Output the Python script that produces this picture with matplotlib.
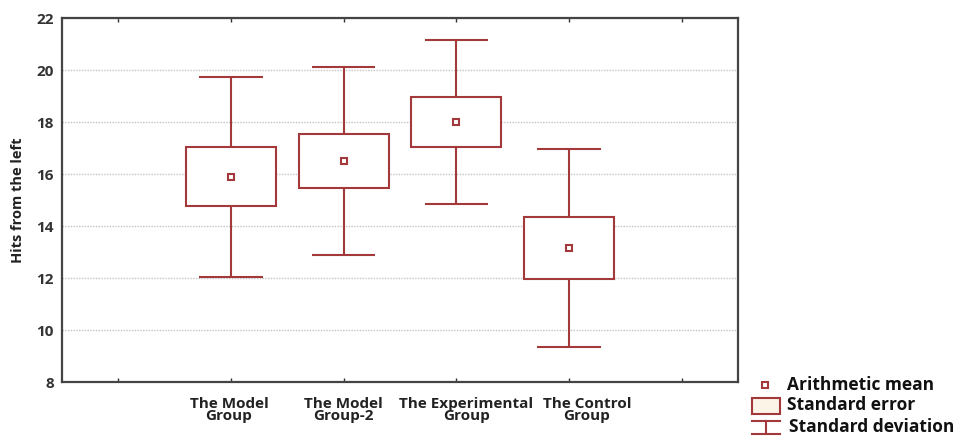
import matplotlib
matplotlib.use("Agg")
import matplotlib.pyplot as plt
import matplotlib.transforms as mtransforms
from matplotlib.lines import Line2D
from matplotlib.patches import Rectangle

# Group summary statistics
groups = ["", "The Model\nGroup", "The Model\nGroup-2", "The Experimental\nGroup", "The Control\nGroup", ""]
group_pos = [1, 2, 3, 4]
means = [15.9, 16.5, 18.0, 13.15]
std_err = [1.14, 1.02, 0.98, 1.2]
std_dev = [3.85, 3.62, 3.14, 3.8]

RED = "#a3393a"
plt.rcParams["font.family"] = ["Open Sans", "DejaVu Sans"]

fig = plt.figure(figsize=(9.58, 4.37), dpi=100)
ax = fig.add_axes([62 / 958, 1 - 382 / 437, (738 - 62) / 958, (382 - 18) / 437])

box_w = 0.8
cap_w = 0.56
lw = 1.5

for x, m, se, sd in zip(group_pos, means, std_err, std_dev):
    ax.vlines(x, m - sd, m + sd, color=RED, lw=lw, zorder=2)
    ax.hlines([m - sd, m + sd], x - cap_w / 2, x + cap_w / 2, color=RED, lw=lw, zorder=2)
    ax.add_patch(Rectangle((x - box_w / 2, m - se), box_w, 2 * se,
                           facecolor="white", edgecolor=RED, lw=lw, zorder=3))
ax.plot(group_pos, means, ls="none", marker="s", ms=5, mfc="white", mec=RED, mew=1.5, zorder=4)

ax.set_xlim(-0.5, 5.5)
ax.set_ylim(8, 22)
ax.set_xticks(range(len(groups)))
ax.set_xticklabels(groups, fontsize=11, fontweight="bold", color="#222222", linespacing=0.8)
ax.set_yticks(range(8, 23, 2))
ax.set_yticklabels([str(v) for v in range(8, 23, 2)], fontsize=11, fontweight="bold", color="#333333")
ax.tick_params(axis="x", direction="in", length=3, top=True, width=1, color="#333333", pad=11)
ax.tick_params(axis="y", length=0, pad=6)
ax.set_ylabel("Hits from the left", fontsize=10.5, fontweight="bold", color="#222222", labelpad=8)

# nudge the longer category labels apart so they do not touch
shifts_px = [0, -2, 0, 10, 18, 0]
for lbl, dx in zip(ax.get_xticklabels(), shifts_px):
    lbl.set_transform(lbl.get_transform() + mtransforms.ScaledTranslation(dx / 100, 0, fig.dpi_scale_trans))

ax.grid(axis="y", color="#c4c4c4", ls=(0, (1, 1)), lw=1.0, zorder=0)
ax.set_axisbelow(True)
for s in ax.spines.values():
    s.set_color("#444444")
    s.set_linewidth(1.6)

# Legend drawn in figure pixel coordinates
def fx(px):
    return px / 958

def fy(py):
    return 1 - py / 437

fig.add_artist(Line2D([fx(765)], [fy(385)], marker="s", ms=5, mfc="white", mec=RED, mew=1.5, ls="none"))
fig.add_artist(Rectangle((fx(752), fy(414)), fx(780) - fx(752), fy(398) - fy(414),
                         facecolor="#fdf4e8", edgecolor=RED, lw=1.5, transform=fig.transFigure))
fig.add_artist(Line2D([fx(752), fx(780)], [fy(421), fy(421)], color=RED, lw=1.5))
fig.add_artist(Line2D([fx(766), fx(766)], [fy(421), fy(434)], color=RED, lw=1.5))
fig.add_artist(Line2D([fx(752), fx(780)], [fy(434), fy(434)], color=RED, lw=1.5))

leg_kw = dict(fontsize=12.5, fontweight="bold", color="#111111", va="center", ha="left")
fig.text(fx(787), fy(385), "Arithmetic mean", **leg_kw)
fig.text(fx(787), fy(405), "Standard error", **leg_kw)
fig.text(fx(789), fy(427), "Standard deviation", **leg_kw)

fig.savefig("out.png", dpi=100)
